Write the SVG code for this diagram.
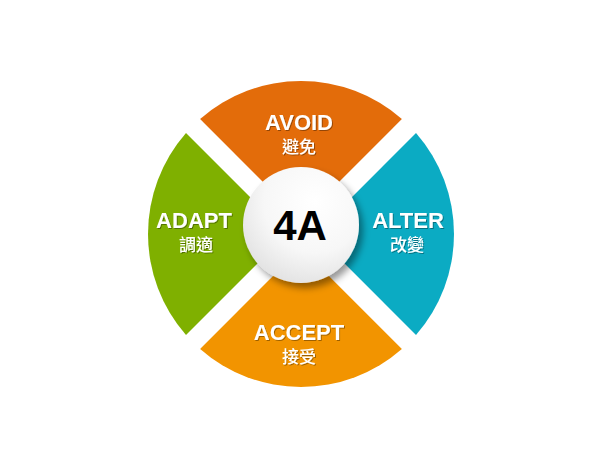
<svg xmlns="http://www.w3.org/2000/svg" width="600" height="450" viewBox="0 0 600 450">
  <style>
    .lbl { font-family: "Liberation Sans", "Noto Sans CJK TC", sans-serif; font-weight: bold; fill: #ffffff; text-anchor: middle; filter: url(#ts); }
    .en { font-size: 22px; }
    .zh { font-family: "Noto Sans CJK TC", "Liberation Sans", sans-serif; font-size: 17px; font-weight: 500; }
    .core { font-family: "Liberation Sans", sans-serif; font-weight: bold; font-size: 42px; fill: #000000; text-anchor: middle; }
  </style>
  <defs>
    <filter id="ts" x="-20%" y="-20%" width="140%" height="150%">
      <feDropShadow dx="1" dy="1" stdDeviation="0.7" flood-color="#000" flood-opacity="0.35"/>
    </filter>
    <filter id="cs" x="-30%" y="-30%" width="160%" height="160%">
      <feDropShadow dx="4" dy="5" stdDeviation="3.5" flood-color="#000" flood-opacity="0.4"/>
    </filter>
    <radialGradient id="cg" cx="0.62" cy="0.3" r="0.8">
      <stop offset="0" stop-color="#ffffff"/>
      <stop offset="0.55" stop-color="#f7f7f7"/>
      <stop offset="1" stop-color="#dedede"/>
    </radialGradient>
  </defs>
  <rect width="600" height="450" fill="#ffffff"/>
  <g id="avoid">
    <path d="M 301 219.9 L 200.1 119 A 153 153 0 0 1 401.9 119 Z" fill="#E36C0A"/>
    <text class="lbl en" x="299" y="130">AVOID</text>
    <text class="lbl zh" x="299" y="153">避免</text>
  </g>
  <g id="alter">
    <path d="M 315.1 234 L 416 133.1 A 153 153 0 0 1 416 334.9 Z" fill="#0BABC3"/>
    <text class="lbl en" x="408" y="228">ALTER</text>
    <text class="lbl zh" x="407" y="251">改變</text>
  </g>
  <g id="accept">
    <path d="M 301 248.1 L 401.9 349 A 153 153 0 0 1 200.1 349 Z" fill="#F29400"/>
    <text class="lbl en" x="299" y="340">ACCEPT</text>
    <text class="lbl zh" x="299" y="363">接受</text>
  </g>
  <g id="adapt">
    <path d="M 286.9 234 L 186 334.9 A 153 153 0 0 1 186 133.1 Z" fill="#7FB000"/>
    <text class="lbl en" x="194" y="228">ADAPT</text>
    <text class="lbl zh" x="196" y="251">調適</text>
  </g>
  <g id="center">
    <circle cx="301" cy="225" r="58" fill="url(#cg)" filter="url(#cs)"/>
    <text class="core" x="300" y="240">4A</text>
  </g>
  <g id="connectors"/>
</svg>
